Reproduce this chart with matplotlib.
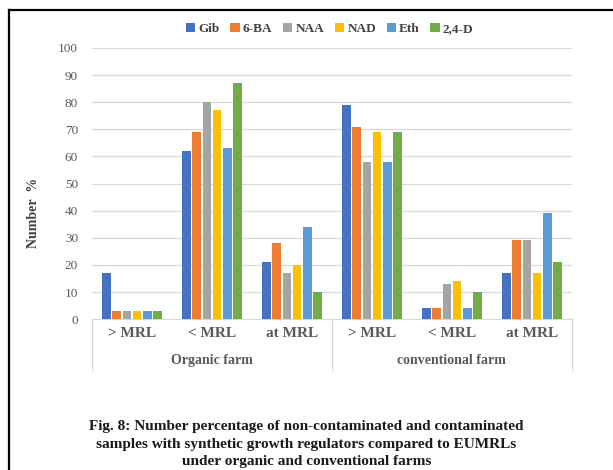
import numpy as np
import matplotlib.pyplot as plt
from matplotlib.lines import Line2D
from matplotlib.patches import Patch
from matplotlib import transforms

plt.rcParams['font.family'] = ['Liberation Serif', 'DejaVu Serif']

# percentages per regulator, in category order:
# organic (>MRL, <MRL, at MRL), conventional (>MRL, <MRL, at MRL)
categories = ['> MRL', '< MRL', 'at MRL', '> MRL', '< MRL', 'at MRL']
farms = ['Organic farm', 'conventional farm']
regulators = ['Gib', '6-BA', 'NAA', 'NAD', 'Eth', '2,4-D']

gib = [17, 62, 21, 79, 4, 17]
ba6 = [3, 69, 28, 71, 4, 29]
naa = [3, 80, 17, 58, 13, 29]
nad = [3, 77, 20, 69, 14, 17]
eth = [3, 63, 34, 58, 4, 39]
d24 = [3, 87, 10, 69, 10, 21]
series = [gib, ba6, naa, nad, eth, d24]

colors = ['#4472C4', '#ED7D31', '#A5A5A5', '#FFC000', '#5B9BD5', '#70AD47']
grey = '#595959'

fig = plt.figure(figsize=(6.13, 4.70), dpi=100)
ax = fig.add_axes([0.150, 0.321, 0.783, 0.577])

x = np.arange(len(categories))
step = 0.128
width = 0.106
for i, (vals, c) in enumerate(zip(series, colors)):
    ax.bar(x + (i - 2.5) * step, vals, width, color=c, zorder=3)

ax.set_xlim(-0.5, 5.5)
ax.set_ylim(0, 100)
ax.set_yticks(range(0, 101, 10))
ax.grid(axis='y', color='#D9D9D9', linewidth=0.9, zorder=0)
for s in ['left', 'right', 'top']:
    ax.spines[s].set_visible(False)
ax.spines['bottom'].set_color('#D9D9D9')
ax.tick_params(axis='y', length=0, pad=10, labelsize=9.5, labelcolor=grey)
ax.tick_params(axis='x', length=0, pad=0)
ax.set_xticks(x)
ax.set_xticklabels([])

# two-level category axis
trans = transforms.blended_transform_factory(ax.transData, ax.transAxes)
for xi, lab in zip(x, categories):
    ax.text(xi, -0.052, lab, transform=trans, ha='center', va='center',
            fontsize=11, fontweight='bold', color=grey)
for j, lab in enumerate(farms):
    ax.text(3 * j + 1, -0.152, lab, transform=trans, ha='center', va='center',
            fontsize=10, fontweight='bold', color=grey)
for xs in [-0.5, 2.5, 5.5]:
    ax.add_line(Line2D([xs, xs], [0, -0.188], transform=trans, color='#D9D9D9',
                       linewidth=0.9, clip_on=False))

ax.set_ylabel('Number  %', fontsize=10, fontweight='bold', color='#404040')
ax.yaxis.set_label_coords(-0.108, 0.39)

handles = [Patch(facecolor=c) for c in colors]
fig.legend(handles, regulators, loc='center', bbox_to_anchor=(0.538, 0.938),
           ncol=6, frameon=False, handlelength=0.7, handleheight=0.7,
           handletextpad=0.25, columnspacing=0.8,
           prop={'weight': 'bold', 'size': 9.5}, labelcolor='#404040')

fig.text(0.5, 0.055,
         'Fig. 8: Number percentage of non-contaminated and contaminated\n'
         'samples with synthetic growth regulators compared to EUMRLs\n'
         'under organic and conventional farms',
         ha='center', va='center', fontsize=11, fontweight='bold',
         linespacing=1.45, color='#1a1a1a')

# outer frame
fig.add_artist(Line2D([9 / 613, 9 / 613], [0, 1 - 10 / 470], transform=fig.transFigure,
                      color='black', linewidth=1.6))
fig.add_artist(Line2D([9 / 613, 1], [1 - 10 / 470, 1 - 10 / 470], transform=fig.transFigure,
                      color='black', linewidth=1.6))

fig.savefig('out.png', dpi=100)
